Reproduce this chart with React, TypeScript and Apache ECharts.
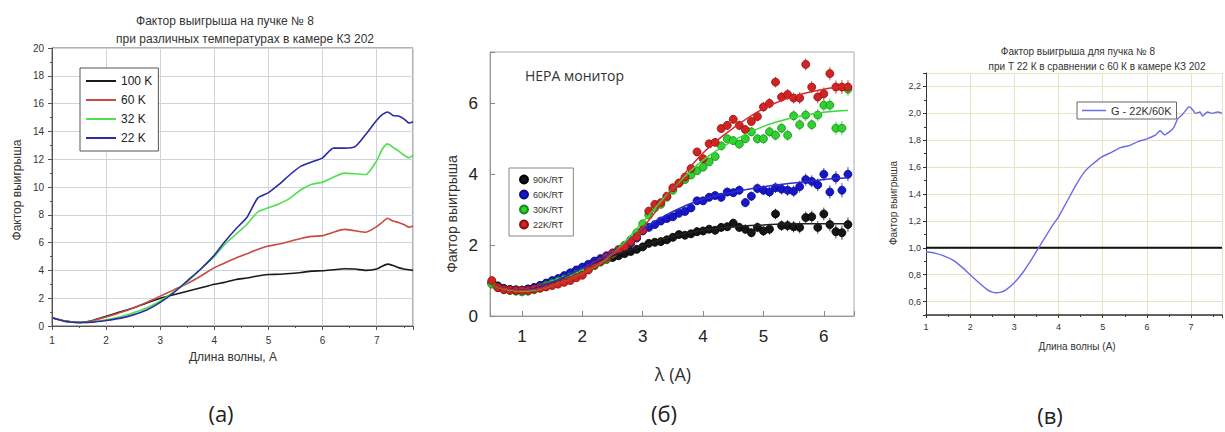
import React, { useEffect, useRef } from "react";
import * as echarts from "echarts";

// ---------- Panel (a) ----------
const aX = [1, 1.25, 1.5, 1.75, 2, 2.25, 2.5, 2.75, 3, 3.25, 3.5, 3.75, 4, 4.2, 4.4, 4.6, 4.8, 5, 5.2, 5.4, 5.6, 5.8, 6, 6.2, 6.4, 6.6, 6.8, 7, 7.1, 7.2, 7.3, 7.4, 7.5, 7.6, 7.67];
const a100K = [0.6, 0.35, 0.25, 0.4, 0.7, 1.0, 1.3, 1.65, 2.0, 2.25, 2.5, 2.75, 3.0, 3.15, 3.35, 3.45, 3.6, 3.7, 3.72, 3.78, 3.85, 3.95, 3.98, 4.05, 4.12, 4.1, 4.0, 4.1, 4.3, 4.45, 4.35, 4.2, 4.1, 4.05, 4.0];
const a60K = [0.6, 0.35, 0.25, 0.38, 0.65, 0.95, 1.3, 1.7, 2.15, 2.6, 3.05, 3.6, 4.2, 4.55, 4.9, 5.2, 5.5, 5.75, 5.9, 6.1, 6.3, 6.45, 6.5, 6.75, 6.95, 6.85, 6.75, 7.15, 7.45, 7.75, 7.55, 7.45, 7.3, 7.1, 7.2];
const a32K = [0.6, 0.33, 0.25, 0.3, 0.45, 0.65, 0.95, 1.3, 1.8, 2.45, 3.2, 4.1, 5.0, 5.9, 6.6, 7.3, 8.2, 8.5, 8.8, 9.2, 9.8, 10.2, 10.35, 10.7, 11.0, 10.95, 10.9, 11.9, 12.7, 13.1, 12.85, 12.6, 12.3, 12.1, 12.3];
const a22K = [0.6, 0.33, 0.25, 0.28, 0.4, 0.55, 0.8, 1.15, 1.7, 2.4, 3.25, 4.1, 5.1, 6.1, 7.0, 7.8, 9.2, 9.6, 10.2, 10.9, 11.5, 11.8, 12.1, 12.8, 12.8, 12.9, 13.8, 14.8, 15.2, 15.4, 15.15, 15.1, 14.9, 14.6, 14.7];
const aNames = ["100 K", "60 K", "32 K", "22 K"];
const aColors = ["#1a1a1a", "#c84a42", "#4ee04e", "#2b2ba2"];

// ---------- Panel (b) ----------
const bX = [0.5, 0.6, 0.7, 0.8, 0.9, 1.0, 1.1, 1.2, 1.3, 1.4, 1.5, 1.6, 1.7, 1.8, 1.9, 2.0, 2.1, 2.2, 2.3, 2.4, 2.5, 2.6, 2.7, 2.8, 2.9, 3.0, 3.1, 3.2, 3.3, 3.4, 3.5, 3.6, 3.7, 3.8, 3.9, 4.0, 4.1, 4.2, 4.3, 4.4, 4.5, 4.6, 4.7, 4.8, 4.9, 5.0, 5.1, 5.2, 5.3, 5.4, 5.5, 5.6, 5.7, 5.8, 5.9, 6.0, 6.1, 6.2, 6.3, 6.4];
const b90K = [0.95, 0.85, 0.78, 0.75, 0.74, 0.73, 0.76, 0.8, 0.86, 0.92, 0.98, 1.04, 1.12, 1.2, 1.28, 1.35, 1.42, 1.48, 1.54, 1.6, 1.65, 1.7, 1.76, 1.82, 1.88, 1.95, 2.05, 2.08, 2.1, 2.15, 2.22, 2.3, 2.28, 2.32, 2.38, 2.4, 2.45, 2.42, 2.5, 2.52, 2.62, 2.5, 2.45, 2.35, 2.5, 2.4, 2.45, 2.88, 2.55, 2.55, 2.52, 2.5, 2.78, 2.8, 2.5, 2.88, 2.58, 2.38, 2.35, 2.58];
const b60K = [0.92, 0.82, 0.76, 0.74, 0.73, 0.73, 0.76, 0.8, 0.86, 0.93, 1.0, 1.06, 1.14, 1.22, 1.3, 1.38, 1.46, 1.55, 1.62, 1.7, 1.78, 1.86, 1.95, 2.05, 2.2, 2.4, 2.5, 2.58, 2.68, 2.75, 2.8, 2.9, 2.95, 3.05, 3.25, 3.25, 3.35, 3.4, 3.35, 3.5, 3.48, 3.55, 3.2, 3.38, 3.6, 3.55, 3.5, 3.62, 3.58, 3.55, 3.52, 3.65, 3.85, 3.8, 3.7, 4.0, 3.5, 3.9, 3.55, 4.0];
const b30K = [0.9, 0.8, 0.74, 0.72, 0.7, 0.68, 0.7, 0.74, 0.8, 0.86, 0.92, 0.98, 1.04, 1.1, 1.18, 1.25, 1.33, 1.42, 1.52, 1.62, 1.75, 1.88, 2.0, 2.15, 2.35, 2.6, 2.85, 3.05, 3.15, 3.35, 3.55, 3.75, 3.85, 3.98, 4.1, 4.2, 4.35, 4.5, 4.8, 5.0, 4.95, 4.85, 5.0, 5.2, 5.0, 5.0, 5.2, 5.1, 5.3, 5.1, 5.65, 5.4, 5.67, 5.4, 5.67, 5.95, 5.95, 5.3, 5.3, 6.4];
const b22K = [1.0, 0.8, 0.75, 0.73, 0.72, 0.72, 0.72, 0.76, 0.78, 0.82, 0.86, 0.9, 0.95, 1.0, 1.08, 1.15, 1.3, 1.44, 1.54, 1.66, 1.77, 1.86, 1.96, 2.1, 2.23, 2.42, 2.96, 3.15, 3.2, 3.38, 3.62, 3.75, 3.92, 4.16, 4.63, 4.44, 4.86, 4.9, 5.29, 5.38, 5.55, 5.38, 5.26, 5.49, 5.63, 5.9, 6.0, 6.6, 6.18, 6.25, 6.15, 6.15, 7.1, 6.46, 6.18, 6.27, 6.84, 6.46, 6.46, 6.46];
const bErr = [0.03, 0.03, 0.03, 0.03, 0.03, 0.03, 0.03, 0.03, 0.03, 0.03, 0.03, 0.03, 0.03, 0.04, 0.04, 0.04, 0.04, 0.04, 0.05, 0.05, 0.05, 0.05, 0.06, 0.06, 0.06, 0.07, 0.07, 0.07, 0.08, 0.08, 0.08, 0.09, 0.09, 0.1, 0.1, 0.1, 0.11, 0.11, 0.12, 0.12, 0.12, 0.13, 0.13, 0.13, 0.14, 0.14, 0.15, 0.15, 0.15, 0.16, 0.16, 0.17, 0.17, 0.17, 0.18, 0.18, 0.19, 0.19, 0.2, 0.2];
const bFitX = [0.5, 1, 1.5, 2, 2.5, 3, 3.5, 4, 4.5, 5, 5.5, 6, 6.4];
const bFit90K = [0.85, 0.73, 0.95, 1.35, 1.7, 1.98, 2.25, 2.42, 2.52, 2.57, 2.6, 2.6, 2.6];
const bFit60K = [0.85, 0.73, 0.95, 1.35, 1.8, 2.45, 2.95, 3.3, 3.5, 3.65, 3.75, 3.85, 3.9];
const bFit30K = [0.85, 0.7, 0.85, 1.2, 1.75, 2.65, 3.6, 4.4, 4.95, 5.35, 5.6, 5.75, 5.8];
const bFit22K = [0.85, 0.72, 0.85, 1.2, 1.75, 2.5, 3.6, 4.6, 5.3, 5.85, 6.2, 6.4, 6.5];
const bNames = ["90K/RT", "60K/RT", "30K/RT", "22K/RT"];
const bFill = ["#151515", "#1717c8", "#30d030", "#d42222"];
const bEdge = ["#000000", "#0a0a8a", "#168a16", "#8a1010"];
const bLine = ["#222222", "#2b2bd0", "#3ad83a", "#d42a2a"];

// ---------- Panel (c) ----------
const cX = [1.0, 1.2, 1.4, 1.6, 1.8, 2.0, 2.2, 2.4, 2.5, 2.6, 2.7, 2.8, 3.0, 3.2, 3.4, 3.55, 3.7, 3.85, 4.0, 4.2, 4.4, 4.6, 4.8, 5.0, 5.2, 5.4, 5.6, 5.8, 6.0, 6.2, 6.3, 6.4, 6.5, 6.6, 6.7, 6.8, 6.9, 6.95, 7.0, 7.05, 7.1, 7.2, 7.26, 7.37, 7.48, 7.6, 7.7];
const cG = [0.97, 0.96, 0.94, 0.91, 0.86, 0.8, 0.74, 0.685, 0.67, 0.665, 0.67, 0.685, 0.74, 0.82, 0.92, 1.0, 1.08, 1.16, 1.23, 1.35, 1.47, 1.57, 1.63, 1.68, 1.71, 1.745, 1.76, 1.79, 1.81, 1.84, 1.87, 1.84, 1.86, 1.89, 1.96, 1.99, 2.03, 2.05, 2.04, 2.02, 2.0, 2.01, 1.98, 2.01, 2.0, 2.01, 2.0];
const cRefX = [1, 7.7];
const cRefY = [1, 1];

const SANS = "'Liberation Sans', Arial, sans-serif";
const CAL = "'Open Sans', 'Liberation Sans', sans-serif";

const zip = (xs: number[], ys: number[]) => xs.map((x, i) => [x, ys[i]]);
const intFmt = (v: number) => (Math.abs(v - Math.round(v)) < 1e-6 ? String(Math.round(v)) : "");

function buildOption() {
  const series: any[] = [];
  // (a)
  [a100K, a60K, a32K, a22K].forEach((ys, i) => {
    series.push({
      type: "line", name: aNames[i], xAxisIndex: 0, yAxisIndex: 0,
      data: zip(aX, ys), symbol: "none", smooth: 0.2,
      lineStyle: { color: aColors[i], width: 1.6 }, itemStyle: { color: aColors[i] },
    });
  });
  // (b) error bars
  [b90K, b60K, b30K, b22K].forEach((ys, i) => {
    const col = bFill[i];
    series.push({
      type: "custom", name: "err" + i, xAxisIndex: 1, yAxisIndex: 1,
      data: bX.map((x, k) => [x, ys[k], bErr[k]]),
      encode: { x: 0, y: 1 },
      renderItem: (params: any, api: any) => {
        const x = api.value(0), y = api.value(1), e = api.value(2);
        const p1 = api.coord([x, y - e]);
        const p2 = api.coord([x, y + e]);
        return { type: "line", shape: { x1: p1[0], y1: p1[1], x2: p2[0], y2: p2[1] }, style: { stroke: col, lineWidth: 1, opacity: 0.8 } };
      },
      z: 2,
    });
  });
  [b90K, b60K, b30K, b22K].forEach((ys, i) => {
    series.push({
      type: "scatter", name: bNames[i], xAxisIndex: 1, yAxisIndex: 1,
      data: zip(bX, ys), symbol: "circle", symbolSize: 8,
      itemStyle: { color: bFill[i], borderColor: bEdge[i], borderWidth: 0.8, opacity: 1 }, z: 3,
    });
  });
  [bFit90K, bFit60K, bFit30K, bFit22K].forEach((ys, i) => {
    series.push({
      type: "line", name: "fit" + i, xAxisIndex: 1, yAxisIndex: 1,
      data: zip(bFitX, ys), symbol: "none", smooth: 0.4,
      lineStyle: { color: bLine[i], width: 1.5 }, z: 4,
    });
  });
  // (c)
  series.push({
    type: "line", name: "ref", xAxisIndex: 2, yAxisIndex: 2, data: zip(cRefX, cRefY),
    symbol: "none", lineStyle: { color: "#111", width: 2 }, z: 3,
  });
  series.push({
    type: "line", name: "G - 22K/60K", xAxisIndex: 2, yAxisIndex: 2, data: zip(cX, cG),
    symbol: "none", smooth: 0.2, lineStyle: { color: "#6b6be8", width: 1.4 }, itemStyle: { color: "#6b6be8" }, z: 4,
  });

  const txt = (text: string, x: number, y: number, size: number, opts: any = {}) => ({
    type: "text", x, y, rotation: opts.rotation || 0, silent: true,
    style: {
      text, fontSize: size, fontFamily: opts.font || SANS, fill: opts.color || "#333",
      align: opts.align || "center", verticalAlign: "middle",
      textAlign: opts.align || "center", textVerticalAlign: "middle",
      fontWeight: opts.weight || "normal",
    },
  });

  return {
    animation: false,
    backgroundColor: "#ffffff",
    textStyle: { fontFamily: SANS },
    grid: [
      { left: 52, top: 48, width: 361, height: 278, show: true, borderColor: "#666", borderWidth: 1, backgroundColor: "transparent" },
      { left: 490, top: 52, width: 364, height: 264, show: true, borderColor: "#aaa", borderWidth: 1, backgroundColor: "transparent" },
      { left: 926, top: 73, width: 310, height: 242, show: false },
    ],
    xAxis: [
      {
        type: "value", gridIndex: 0, min: 1, max: 7.67, interval: 1,
        axisLine: { show: true, lineStyle: { color: "#555" } },
        axisTick: { show: true, length: 4, lineStyle: { color: "#555" } },
        minorTick: { show: true, splitNumber: 2, length: 2, lineStyle: { color: "#555" } },
        splitLine: { show: true, lineStyle: { color: "#cfd3de", width: 1 } },
        axisLabel: { fontSize: 10, color: "#333", margin: 9, formatter: intFmt },
      },
      {
        type: "value", gridIndex: 1, min: 0.47, max: 6.5, minInterval: 1, maxInterval: 1,
        axisLine: { show: true, lineStyle: { color: "#999" } },
        axisTick: { show: true, inside: true, length: 5, lineStyle: { color: "#888" } },
        splitLine: { show: false },
        axisLabel: { fontSize: 17, color: "#222", margin: 12, formatter: intFmt },
      },
      {
        type: "value", gridIndex: 2, min: 1, max: 7.7, interval: 1,
        axisLine: { show: true, lineStyle: { color: "#333", width: 1.5 } },
        axisTick: { show: true, length: 3, lineStyle: { color: "#333" } },
        minorTick: { show: true, splitNumber: 2, length: 2, lineStyle: { color: "#333" } },
        splitLine: { show: true, lineStyle: { color: "#e8e4c2", width: 1 } },
        axisLabel: { fontSize: 9, color: "#333", margin: 7, formatter: intFmt },
      },
    ],
    yAxis: [
      {
        type: "value", gridIndex: 0, min: 0, max: 20, interval: 2,
        axisLine: { show: true, lineStyle: { color: "#555" } },
        axisTick: { show: true, length: 4, lineStyle: { color: "#555" } },
        minorTick: { show: true, splitNumber: 2, length: 2, lineStyle: { color: "#555" } },
        splitLine: { show: true, lineStyle: { color: "#cfd3de", width: 1 } },
        axisLabel: { fontSize: 10, color: "#333", margin: 8, formatter: intFmt },
      },
      {
        type: "value", gridIndex: 1, min: 0, max: 7.45, interval: 2,
        axisLine: { show: true, lineStyle: { color: "#999" } },
        axisTick: { show: true, inside: true, length: 5, lineStyle: { color: "#888" } },
        splitLine: { show: false },
        axisLabel: { fontSize: 17, color: "#222", margin: 12, formatter: intFmt },
      },
      {
        type: "value", gridIndex: 2, min: 0.5, max: 2.3, minInterval: 0.2, maxInterval: 0.2,
        axisLine: { show: true, lineStyle: { color: "#333", width: 1 } },
        axisTick: { show: true, length: 3, lineStyle: { color: "#333" } },
        minorTick: { show: true, splitNumber: 2, length: 2, lineStyle: { color: "#333" } },
        splitLine: { show: true, lineStyle: { color: "#e8e4c2", width: 1 } },
        axisLabel: {
          fontSize: 9, color: "#333", margin: 5,
          formatter: (v: number) => (Math.abs(v * 5 - Math.round(v * 5)) < 1e-6 ? v.toFixed(1).replace(".", ",") : ""),
        },
      },
    ],
    legend: [
      {
        data: aNames.map((n) => ({ name: n, icon: "rect" })), left: 80, top: 68, orient: "vertical",
        itemWidth: 30, itemHeight: 2, itemGap: 5,
        padding: [6, 6, 6, 6], borderColor: "#555", borderWidth: 1, backgroundColor: "#fff",
        textStyle: { fontSize: 12, color: "#222", fontFamily: SANS, lineHeight: 14 }, itemTextGap: 3,
      },
      {
        data: bNames.map((n) => ({ name: n, icon: "circle" })), left: 509, top: 168, orient: "vertical",
        itemWidth: 8, itemHeight: 8, itemGap: 4, itemTextGap: 18,
        padding: [6, 10, 6, 10], borderColor: "#888", borderWidth: 1, backgroundColor: "#fff",
        textStyle: { fontSize: 9, color: "#333", lineHeight: 11, fontFamily: SANS },
      },
      {
        data: [{ name: "G - 22K/60K", icon: "rect" }], left: 1077, top: 102, orient: "vertical",
        itemWidth: 24, itemHeight: 1.5,
        padding: [2, 5, 2, 5], borderColor: "#666", borderWidth: 1, backgroundColor: "#fff",
        textStyle: { fontSize: 11, color: "#333", fontFamily: SANS, lineHeight: 13 }, itemTextGap: 4,
      },
    ],
    graphic: [
      txt("Фактор выигрыша на пучке № 8", 225, 21, 12),
      txt("при различных температурах в камере КЗ 202", 245, 39, 12),
      txt("Фактор выигрыша", 17, 190, 12, { rotation: Math.PI / 2 }),
      txt("Длина волны, А", 233, 357, 12),
      txt("HEPA монитор", 525, 75, 14, { align: "left", font: CAL, color: "#333" }),
      txt("Фактор выигрыша", 452, 214, 14, { rotation: Math.PI / 2, font: SANS, color: "#333" }),
      txt("λ (A)", 673, 374, 18, { font: CAL, color: "#333" }),
      txt("Фактор выигрыша для пучка № 8", 1078, 51, 10),
      txt("при Т 22 К в сравнении с 60 К в камере КЗ 202", 1097, 66, 10),
      txt("Фактор выигрыша", 893, 203, 10, { rotation: Math.PI / 2 }),
      txt("Длина волны (А)", 1077, 346, 10),
      txt("(а)", 221, 413, 22, { font: CAL, color: "#222" }),
      txt("(б)", 664, 413, 22, { font: CAL, color: "#222" }),
      txt("(в)", 1050, 415, 22, { font: CAL, color: "#222" }),
    ],
    series,
  };
}

export default function App() {
  const ref = useRef<HTMLDivElement>(null);
  useEffect(() => {
    if (!ref.current) return;
    const chart = echarts.init(ref.current, undefined, { renderer: "svg" });
    chart.setOption(buildOption() as any);
    return () => chart.dispose();
  }, []);
  return <div ref={ref} style={{ position: "absolute", left: 0, top: 0, width: 1225, height: 432 }} />;
}
